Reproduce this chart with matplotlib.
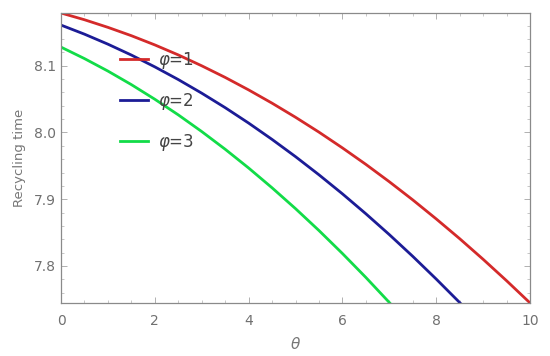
import matplotlib
matplotlib.use("Agg")
import matplotlib.pyplot as plt
from matplotlib.ticker import MultipleLocator

# values
theta_red = [0, 0.5, 1, 1.5, 2, 2.5, 3, 3.5, 4, 4.5, 5, 5.5, 6, 6.5, 7, 7.5, 8, 8.5, 9, 9.5, 10]
rt_red = [8.179, 8.1689, 8.1575, 8.1450, 8.1312, 8.1162, 8.0999, 8.0825, 8.0638, 8.0439, 8.0228,
          8.0005, 7.9769, 7.9522, 7.9262, 7.8990, 7.8705, 7.8409, 7.8100, 7.7779, 7.7446]

theta_blue = [0, 0.5, 1, 1.5, 2, 2.5, 3, 3.5, 4, 4.5, 5, 5.5, 6, 6.5, 7, 7.5, 8, 8.5, 9]
rt_blue = [8.1609, 8.1473, 8.1323, 8.1160, 8.0983, 8.0793, 8.0589, 8.0372, 8.0141, 7.9896, 7.9638,
           7.9366, 7.9081, 7.8782, 7.8470, 7.8144, 7.7804, 7.7452, 7.7085]

theta_green = [0, 0.5, 1, 1.5, 2, 2.5, 3, 3.5, 4, 4.5, 5, 5.5, 6, 6.5, 7, 7.5]
rt_green = [8.1279, 8.1107, 8.0920, 8.0717, 8.0498, 8.0264, 8.0014, 7.9749, 7.9468, 7.9171, 7.8859,
            7.8531, 7.8187, 7.7828, 7.7453, 7.7062]

labels = [r"$\varphi$=1", r"$\varphi$=2", r"$\varphi$=3"]

fig = plt.figure(figsize=(5.5, 3.56), dpi=100)
ax = fig.add_axes([61 / 550, 1 - 303 / 356, (530 - 61) / 550, (303 - 13) / 356])

ax.plot(theta_red, rt_red, color="#d42a2a", lw=2.0, label=labels[0])
ax.plot(theta_blue, rt_blue, color="#1c1c96", lw=2.0, label=labels[1])
ax.plot(theta_green, rt_green, color="#12dc48", lw=2.0, label=labels[2])

ax.set_xlim(0, 10)
ax.set_ylim(7.7445, 8.179)
ax.xaxis.set_major_locator(MultipleLocator(2))
ax.xaxis.set_minor_locator(MultipleLocator(0.5))
ax.yaxis.set_major_locator(MultipleLocator(0.1))
ax.yaxis.set_minor_locator(MultipleLocator(0.02))
ax.set_yticklabels([f"{v:.1f}" for v in ax.get_yticks()])

gray = "#8a8a8a"
for s in ax.spines.values():
    s.set_color(gray)
    s.set_linewidth(0.9)
ax.tick_params(which="both", direction="in", top=True, right=True, colors="#b0b0b0",
               labelcolor="#707070", labelsize=10)
ax.tick_params(which="major", length=4, width=0.7)
ax.tick_params(which="minor", length=2, width=0.5)
ax.tick_params(axis="x", pad=8)

ax.set_ylabel("Recycling time", color="#777777", fontsize=9.5, labelpad=6)
ax.set_xlabel(r"$\theta$", color="#777777", fontsize=11, labelpad=6)

leg = ax.legend(loc="upper left", bbox_to_anchor=(0.126, 0.874), frameon=False, fontsize=12,
                handlelength=1.7, handletextpad=0.55, labelspacing=1.22,
                borderpad=0, borderaxespad=0)
for t in leg.get_texts():
    t.set_color("#444444")

fig.savefig("out.png", dpi=100)
